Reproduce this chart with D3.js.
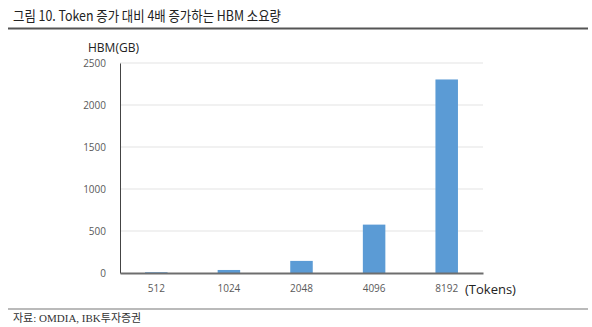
<!DOCTYPE html>
<html>
<head>
<meta charset="utf-8">
<title>Token 증가 대비 4배 증가하는 HBM 소요량</title>
<script src="https://cdn.jsdelivr.net/npm/d3@7"></script>
<style>
  body { margin: 0; background: #fff; }
  svg { display: block; }
  .tick text { fill: #595959; font-family: "Open Sans", "Noto Sans", sans-serif; font-size: 10px; }
</style>
</head>
<body>
<svg width="592" height="327"></svg>
<script>
// token counts and HBM requirement (GB)
var tokens = ["512", "1024", "2048", "4096", "8192"];
var hbmGB = [9, 36, 144, 576, 2304];
var yTicks = [0, 500, 1000, 1500, 2000, 2500];

var svg = d3.select("svg");
var plotL = 120, plotR = 483, plotT = 63, plotB = 273;

var x = d3.scaleBand().domain(tokens).range([plotL, plotR]).paddingInner(0.69).paddingOuter(0.345);
var y = d3.scaleLinear().domain([0, 2500]).range([plotB, plotT]);

// title and rules
svg.append("text")
    .attr("x", 13).attr("y", 21)
    .attr("fill", "#222")
    .attr("textLength", 268).attr("lengthAdjust", "spacingAndGlyphs")
    .style("font", "14px 'Noto Sans CJK KR', sans-serif")
    .text("그림 10. Token 증가 대비 4배 증가하는 HBM 소요량");
svg.append("line").attr("x1", 8).attr("x2", 588).attr("y1", 28.5).attr("y2", 28.5)
    .attr("stroke", "#555").attr("stroke-width", 2);
svg.append("line").attr("x1", 8).attr("x2", 588).attr("y1", 309).attr("y2", 309)
    .attr("stroke", "#777").attr("stroke-width", 1.2);
svg.append("text")
    .attr("x", 13).attr("y", 322)
    .attr("fill", "#333")
    .style("font", "11px 'Liberation Serif', 'Noto Sans CJK KR', serif")
    .text("자료: OMDIA, IBK투자증권");

// gridlines
svg.append("g").selectAll("line")
    .data(yTicks.slice(1))
    .enter().append("line")
    .attr("x1", plotL).attr("x2", plotR)
    .attr("y1", function(d) { return y(d); })
    .attr("y2", function(d) { return y(d); })
    .attr("stroke", "#e3e3e3").attr("stroke-width", 1);

// y axis
var gy = svg.append("g")
    .attr("transform", "translate(" + plotL + ",0)")
    .call(d3.axisLeft(y).tickValues(yTicks).tickFormat(d3.format("d")).tickSize(0).tickPadding(14));
gy.select(".domain").attr("stroke", "#444").attr("stroke-width", 1);

// bars
svg.append("g").selectAll("rect")
    .data(hbmGB)
    .enter().append("rect")
    .attr("x", function(d, i) { return x(tokens[i]); })
    .attr("width", x.bandwidth())
    .attr("y", function(d) { return y(d); })
    .attr("height", function(d) { return plotB - y(d); })
    .attr("fill", "#5b9bd5");

// x axis
var gx = svg.append("g")
    .attr("transform", "translate(0," + plotB + ")")
    .call(d3.axisBottom(x).tickSize(0).tickPadding(12));
gx.select(".domain").attr("stroke", "#6e6e6e").attr("stroke-width", 2);

// axis titles
svg.append("text")
    .attr("x", 88).attr("y", 52)
    .attr("fill", "#222")
    .style("font", "12px 'Open Sans', sans-serif")
    .text("HBM(GB)");
svg.append("text")
    .attr("x", 465).attr("y", 294)
    .attr("fill", "#222")
    .style("font", "13px 'Open Sans', sans-serif")
    .text("(Tokens)");
</script>
</body>
</html>
